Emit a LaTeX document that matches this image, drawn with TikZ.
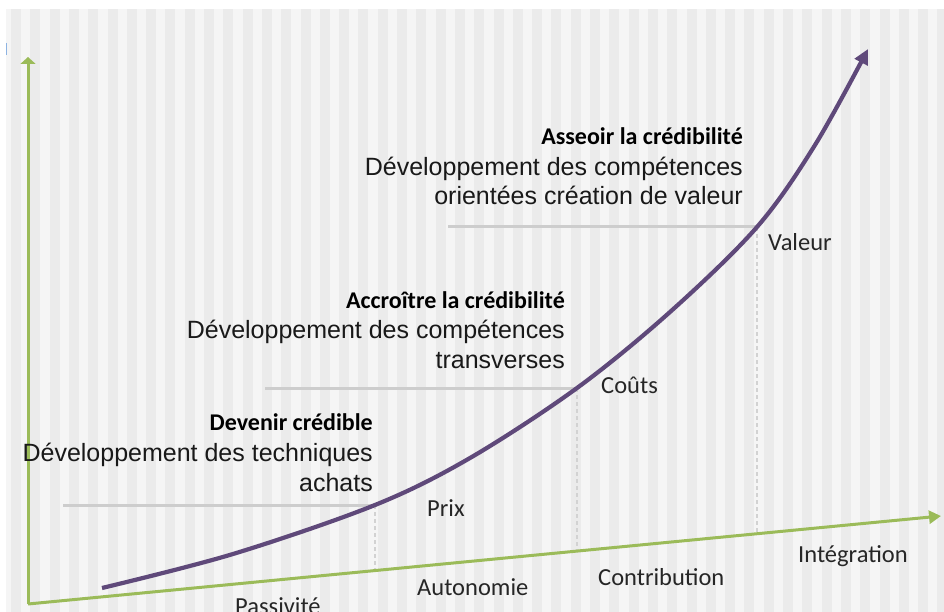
\documentclass[tikz,border=0pt]{standalone}
\usepackage{fontspec}
\setmainfont{Liberation Sans}
\newfontfamily\calibri{Carlito}
\usetikzlibrary{arrows.meta}
\definecolor{axisgreen}{HTML}{9BBB59}
\definecolor{curvepurple}{HTML}{5F497A}
\definecolor{levelgray}{HTML}{CDCDCD}
\definecolor{dashgray}{HTML}{D2D2D2}
\definecolor{stripedark}{HTML}{EBEBEB}
\definecolor{stripelight}{HTML}{F5F5F5}
\definecolor{markblue}{HTML}{8DB3E2}
\tikzset{
  axisline/.style={draw=axisgreen, line width=3pt},
  growth/.style={draw=curvepurple, line width=4.2pt, -{Triangle[length=15pt,width=14pt]}},
  levelline/.style={draw=levelgray, line width=3pt},
  dropline/.style={draw=dashgray, line width=1.8pt, dash pattern=on 4pt off 3pt},
  titletext/.style={inner sep=0pt, anchor=base east, font=\calibri\bfseries\fontsize{24}{28}\selectfont, text=black},
  bodytext/.style={inner sep=0pt, anchor=base east, font=\fontsize{25}{30}\selectfont, text=black!90},
  axislabel/.style={inner sep=0pt, anchor=base west, font=\calibri\fontsize{24.5}{28}\selectfont, text=black!85}
}
\begin{document}
\begin{tikzpicture}[x=1pt,y=-1pt]
\useasboundingbox (0,0) rectangle (944,612);
% background
\fill[white] (0,0) rectangle (944,612);
\fill[stripelight] (6,9) rectangle (944,612);
\foreach \i in {0,...,48} {
  \fill[stripedark] ({11+19.3*\i},9) rectangle ({21+19.3*\i},612);
}
\draw[markblue, line width=1.5pt] (6.5,43) -- (6.5,55);

% key coordinates
\coordinate (origin) at (28,604);
\coordinate (ytop) at (28,57);
\coordinate (xend) at (941,516);
\coordinate (c0) at (102,588);
\coordinate (p1) at (375,505);
\coordinate (p2) at (577,388);
\coordinate (p3) at (757,227);
\coordinate (ctip) at (868,49);
\coordinate (a1) at (375,570.5);
\coordinate (a2) at (577,551);
\coordinate (a3) at (757,533.6);
\coordinate (l1) at (63,505);
\coordinate (l2) at (265,388);
\coordinate (l3) at (448,227);

% level lines
\draw[levelline] (l1) -- (p1);
\draw[levelline] (l2) -- (p2);
\draw[levelline] (l3) -- (p3);
% drop lines
\draw[dropline] (p1) -- (a1);
\draw[dropline] (p2) -- (a2);
\draw[dropline] (p3) -- (a3);

% axes
\draw[axisline, -{Triangle[length=7pt,width=15pt]}] (origin) -- (ytop);
\draw[axisline, -{Triangle[length=12pt,width=13pt]}] (origin) -- (xend);

% growth curve
\draw[growth] plot[smooth, tension=0.55] coordinates {(c0) (233,554) (p1) (470,458) (p2) (670,312) (p3) (815,145) (ctip)};

% text blocks
\node[titletext] (t1a) at (743,145) {Asseoir la crédibilité};
\node[bodytext] (t1b) at (743,176) {Développement des compétences};
\node[bodytext] (t1c) at (743,205) {orientées création de valeur};

\node[titletext] (t2a) at (565,308) {Accroître la crédibilité};
\node[bodytext] (t2b) at (565,338) {Développement des compétences};
\node[bodytext] (t2c) at (565,368) {transverses};

\node[titletext] (t3a) at (373,430) {Devenir crédible};
\node[bodytext] (t3b) at (373,461) {Développement des techniques};
\node[bodytext] (t3c) at (373,491) {achats};

% curve labels
\node[axislabel] (lv) at (768,251) {Valeur};
\node[axislabel] (lc) at (601,393) {Coûts};
\node[axislabel] (lp) at (427,516) {Prix};

% axis labels
\node[axislabel] (ai) at (798,562) {Intégration};
\node[axislabel] (ac) at (598,585) {Contribution};
\node[axislabel] (aa) at (417,595) {Autonomie};
\node[axislabel] (ap) at (235,614) {Passivité};
\end{tikzpicture}
\end{document}
